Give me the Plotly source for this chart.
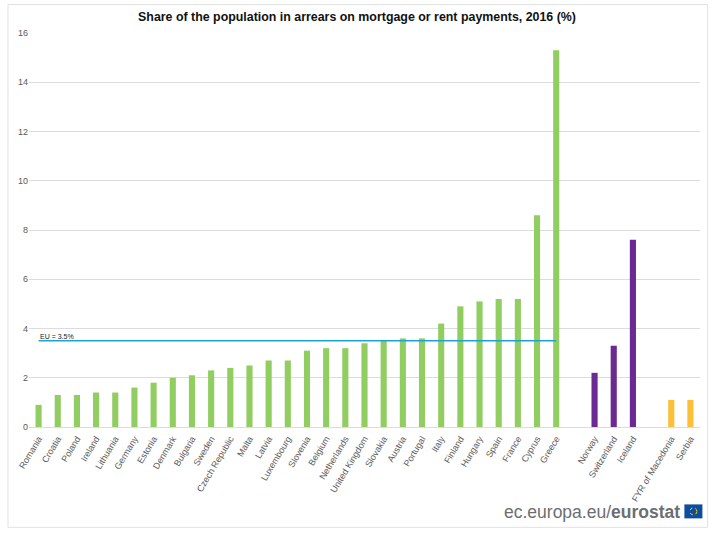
import plotly.graph_objects as go

TITLE = 'Share of the population in arrears on mortgage or rent payments, 2016 (%)'

# blank names keep the gaps between the country groups
countries = ['Romania', 'Croatia', 'Poland', 'Ireland', 'Lithuania', 'Germany', 'Estonia',
             'Denmark', 'Bulgaria', 'Sweden', 'Czech Republic', 'Malta', 'Latvia', 'Luxembourg',
             'Slovenia', 'Belgium', 'Netherlands', 'United Kingdom', 'Slovakia', 'Austria',
             'Portugal', 'Italy', 'Finland', 'Hungary', 'Spain', 'France', 'Cyprus', 'Greece',
             ' ', 'Norway', 'Switzerland', 'Iceland', '  ', 'FYR of Macedonia', 'Serbia']
values = [0.9, 1.3, 1.3, 1.4, 1.4, 1.6, 1.8,
          2.0, 2.1, 2.3, 2.4, 2.5, 2.7, 2.7,
          3.1, 3.2, 3.2, 3.4, 3.5, 3.6,
          3.6, 4.2, 4.9, 5.1, 5.2, 5.2, 8.6, 15.3,
          None, 2.2, 3.3, 7.6, None, 1.1, 1.1]
groups = ['eu'] * 28 + ['none'] + ['efta'] * 3 + ['none'] + ['candidate'] * 2
eu_average = [3.5] * 28 + [None] * 7

GROUP_COLORS = {'eu': '#92cd62', 'efta': '#6b2a93', 'candidate': '#fbc037', 'none': '#ffffff'}
TEXT_FONT = 'Liberation Sans, Arial, sans-serif'

fig = go.Figure()
fig.add_trace(go.Bar(x=countries, y=values, width=0.32,
                     marker=dict(color=[GROUP_COLORS[g] for g in groups], line_width=0)))
fig.add_trace(go.Scatter(x=countries, y=eu_average, mode='lines',
                         line=dict(color='#1ca3d6', width=1.5)))

fig.update_layout(
    width=714, height=534, autosize=False,
    margin=dict(l=29.4, r=14.4, t=33, b=106.5, autoexpand=False),
    paper_bgcolor='white', plot_bgcolor='white',
    showlegend=False,
    font=dict(family=TEXT_FONT, color='#595959', size=9),
    title=dict(text='<b>' + TITLE + '</b>', x=0.5, xanchor='center', y=0.968, yanchor='middle',
               font=dict(family=TEXT_FONT, size=12.4, color='#111111')),
)
fig.update_xaxes(type='category', categoryorder='array', categoryarray=countries,
                 tickmode='array', tickvals=countries, ticktext=countries,
                 tickangle=-59, ticks='outside', ticklen=2, tickcolor='white', showgrid=False,
                 showline=False, zeroline=False,
                 automargin=False, tickfont=dict(size=9, color='#595959'))
fig.update_yaxes(range=[0, 16], dtick=2, showgrid=True, gridcolor='#dcdcdc', gridwidth=1,
                 showline=False, zeroline=True, zerolinecolor='#dcdcdc', zerolinewidth=1,
                 ticks='', automargin=False, tickfont=dict(size=9, color='#595959'))

fig.add_annotation(x='Romania', y=3.5, yref='y', text='EU = 3.5%', showarrow=False,
                   xanchor='left', yanchor='bottom', xshift=-1, yshift=-1,
                   font=dict(size=7, color='#222222'))

# outer frame
fig.add_shape(type='rect', xref='paper', yref='paper',
              x0=-21.0 / 670.2, x1=1 + 7.6 / 670.2, y0=-100.5 / 394.5, y1=1 + 28.5 / 394.5,
              line=dict(color='#e2e2e2', width=1), fillcolor='rgba(0,0,0,0)', layer='below')

# eurostat mark, bottom right
fig.add_annotation(xref='paper', yref='paper', x=1 - 17.6 / 670.2, y=-85.5 / 394.5,
                   text='ec.europa.eu/<b>eurostat</b>', showarrow=False,
                   xanchor='right', yanchor='middle',
                   font=dict(family=TEXT_FONT, size=17.5, color='#6d6e71'))
fig.add_shape(type='rect', xref='paper', yref='paper',
              x0=1 - 15.6 / 670.2, x1=1 + 2.4 / 670.2, y0=-91.5 / 394.5, y1=-77.5 / 394.5,
              line_width=0, fillcolor='#0f4c9c')
fig.add_shape(type='circle', xref='paper', yref='paper',
              x0=1 - 10.1 / 670.2, x1=1 - 3.1 / 670.2, y0=-88 / 394.5, y1=-81 / 394.5,
              line=dict(color='#f5d90a', width=1, dash='dot'), fillcolor='rgba(0,0,0,0)')

# page margin would otherwise push the figure 8px in
fig.write_html("out.html", config={'displayModeBar': False},
               post_script="document.body.style.margin='0';")
